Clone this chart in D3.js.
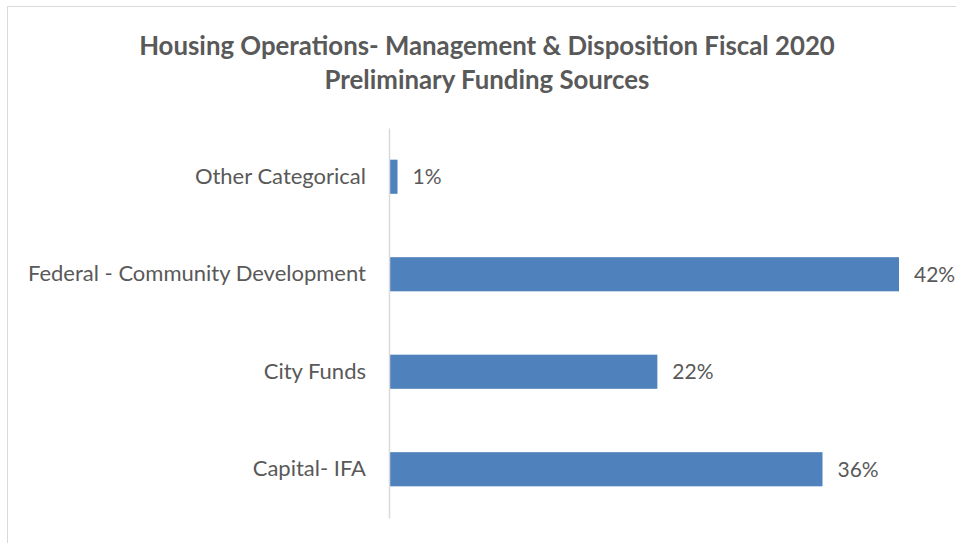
<!DOCTYPE html>
<html>
<head>
<meta charset="utf-8">
<script src="https://cdn.jsdelivr.net/npm/d3@7"></script>
<style>
  body { margin: 0; background: #fff; }
  text { font-family: Lato, "Open Sans", sans-serif; fill: #595959; }
</style>
</head>
<body>
<div id="chart"></div>
<script>
// data, top to bottom as drawn
const categories = ["Other Categorical", "Federal - Community Development", "City Funds", "Capital- IFA"];
const shares = [0.7, 42.0, 22.1, 35.7];
const titleLines = ["Housing Operations- Management & Disposition Fiscal 2020", "Preliminary Funding Sources"];

const width = 956, height = 543;
const margin = { top: 128, right: 57, bottom: 25, left: 389 };

const svg = d3.select("#chart").append("svg")
    .attr("width", width)
    .attr("height", height);

// chart frame
svg.append("rect")
    .attr("x", 7.5).attr("y", 6.5)
    .attr("width", 1000).attr("height", 600)
    .attr("fill", "none")
    .attr("stroke", "#d9d9d9");

// title
svg.append("g").selectAll("text")
    .data(titleLines)
    .join("text")
    .attr("x", 487)
    .attr("y", (d, i) => 55 + i * 34)
    .attr("text-anchor", "middle")
    .style("font-weight", "bold")
    .style("font-size", "25.8px")
    .text(d => d);

const x = d3.scaleLinear()
    .domain([0, 42])
    .range([margin.left, 899]);

const y = d3.scaleBand()
    .domain(categories)
    .range([margin.top, height - margin.bottom])
    .paddingInner(0.65)
    .paddingOuter(0.325);

const data = categories.map((c, i) => ({ name: c, value: shares[i] }));

svg.append("g").selectAll("rect")
    .data(data)
    .join("rect")
    .attr("x", x(0))
    .attr("y", d => y(d.name))
    .attr("width", d => x(d.value) - x(0))
    .attr("height", y.bandwidth())
    .attr("fill", "#4f81bd");

// category axis, no ticks
const yAxis = svg.append("g")
    .attr("transform", `translate(${margin.left},0)`)
    .call(d3.axisLeft(y).tickSize(0).tickPadding(23));
yAxis.select(".domain").attr("stroke", "#d9d9d9").attr("stroke-width", 1.5);
yAxis.selectAll("text")
    .style("font-size", "22px")
    .attr("fill", "#595959")
    .style("font-family", "Lato, 'Open Sans', sans-serif");

// value labels
svg.append("g").selectAll("text")
    .data(data)
    .join("text")
    .attr("x", d => x(d.value) + 15)
    .attr("y", d => y(d.name) + y.bandwidth() / 2)
    .attr("dy", "0.35em")
    .style("font-size", "21px")
    .text(d => Math.round(d.value) + "%");
</script>
</body>
</html>
